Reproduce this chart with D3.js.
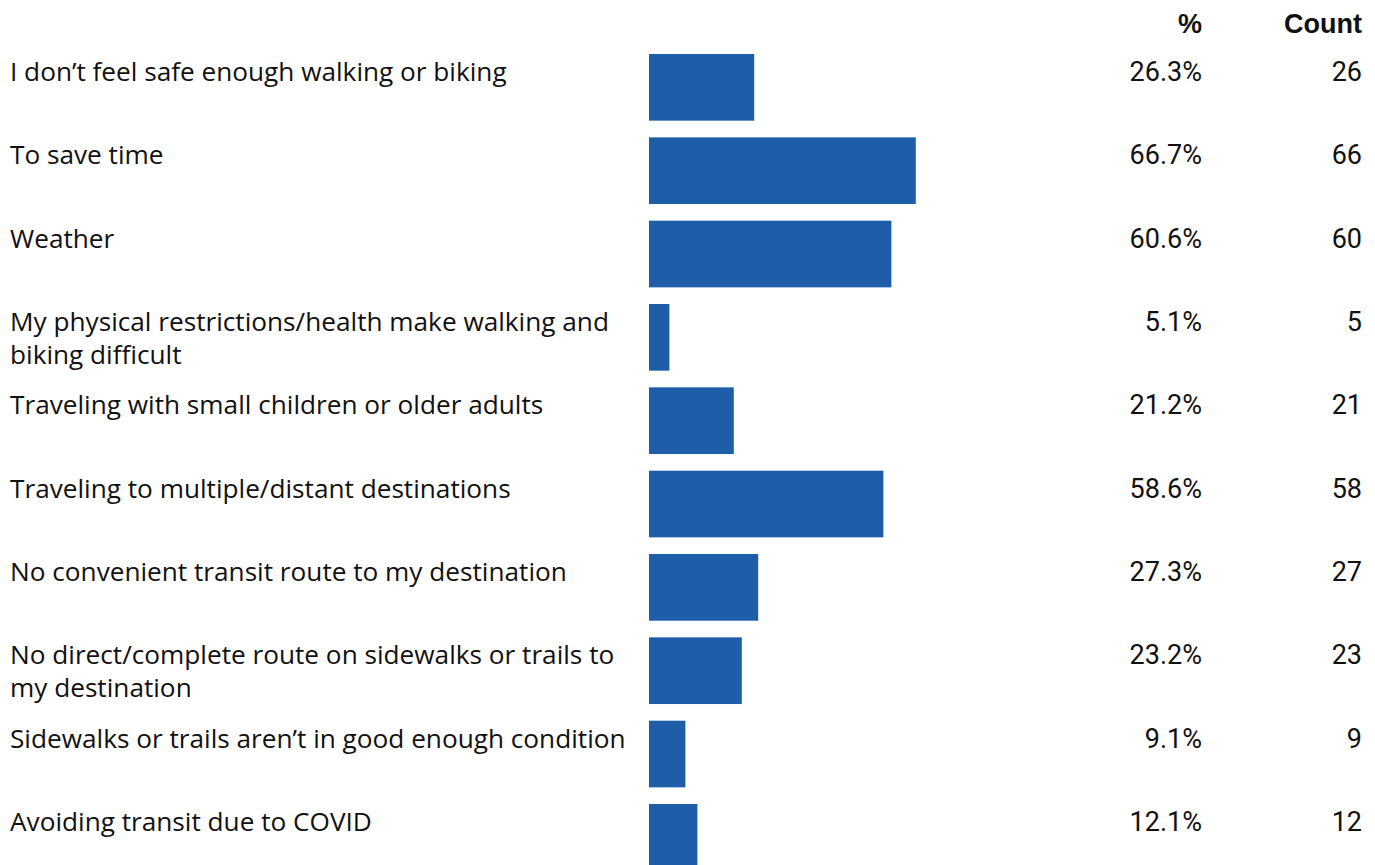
<!DOCTYPE html>
<html>
<head>
<meta charset="utf-8">
<script src="https://cdn.jsdelivr.net/npm/d3@7"></script>
<style>
  html, body { margin: 0; padding: 0; background: #fff; }
  svg { display: block; }
</style>
</head>
<body>
<svg id="chart" width="1375" height="865"></svg>
<script>
const categories = [
  "I don\u2019t feel safe enough walking or biking",
  "To save time",
  "Weather",
  "My physical restrictions/health make walking and biking difficult",
  "Traveling with small children or older adults",
  "Traveling to multiple/distant destinations",
  "No convenient transit route to my destination",
  "No direct/complete route on sidewalks or trails to my destination",
  "Sidewalks or trails aren\u2019t in good enough condition",
  "Avoiding transit due to COVID"
];
const percents = [26.3, 66.7, 60.6, 5.1, 21.2, 58.6, 27.3, 23.2, 9.1, 12.1];
const counts = [26, 66, 60, 5, 21, 58, 27, 23, 9, 12];
const columnHeaders = ["%", "Count"];

const svg = d3.select("#chart");
const labelFont = "'Open Sans', 'Noto Sans', sans-serif";
const numFont = "Roboto, 'Noto Sans', sans-serif";
const headFont = "'Liberation Sans', Arial, sans-serif";
const textColor = "#111";
const barColor = "#1e5ea9";

const x = d3.scaleLinear().domain([0, 100]).range([649, 1049]);
const y = d3.scaleBand().domain(categories).range([54, 870.7]).paddingInner(0.2).paddingOuter(0);

const pctX = 1202, countX = 1362;
const data = categories.map((c, i) => ({ cat: c, pct: percents[i], count: counts[i] }));

// headers
[pctX, countX].forEach((hx, i) => {
  svg.append("text").attr("x", hx).attr("y", 33).attr("text-anchor", "end")
    .attr("font-family", headFont).attr("font-weight", 700).attr("font-size", 27)
    .attr("fill", textColor).text(columnHeaders[i]);
});

// bars
svg.append("g").selectAll("rect").data(data).join("rect")
  .attr("x", x(0))
  .attr("y", d => y(d.cat))
  .attr("width", d => x(d.pct) - x(0))
  .attr("height", y.bandwidth())
  .attr("fill", barColor);

// labels with wrapping
const maxW = 636;
const labels = svg.append("g").selectAll("text").data(data).join("text")
  .attr("x", 10)
  .attr("y", d => y(d.cat) + 27)
  .attr("font-family", labelFont)
  .attr("font-size", 26.2)
  .attr("fill", textColor);

labels.each(function(d) {
  const t = d3.select(this);
  const words = d.cat.split(" ");
  let line = [];
  let tspan = t.append("tspan").attr("x", 10).attr("dy", 0);
  words.forEach(w => {
    line.push(w);
    tspan.text(line.join(" "));
    if (tspan.node().getComputedTextLength() > maxW && line.length > 1) {
      line.pop();
      tspan.text(line.join(" "));
      line = [w];
      tspan = t.append("tspan").attr("x", 10).attr("dy", 33).text(w);
    }
  });
});

// values
svg.append("g").selectAll("text").data(data).join("text")
  .attr("x", pctX).attr("y", d => y(d.cat) + 27)
  .attr("text-anchor", "end")
  .attr("font-family", numFont).attr("font-size", 27)
  .attr("fill", textColor)
  .text(d => d.pct.toFixed(1) + "%");

svg.append("g").selectAll("text").data(data).join("text")
  .attr("x", countX).attr("y", d => y(d.cat) + 27)
  .attr("text-anchor", "end")
  .attr("font-family", numFont).attr("font-size", 27)
  .attr("fill", textColor)
  .text(d => d.count);
</script>
</body>
</html>
